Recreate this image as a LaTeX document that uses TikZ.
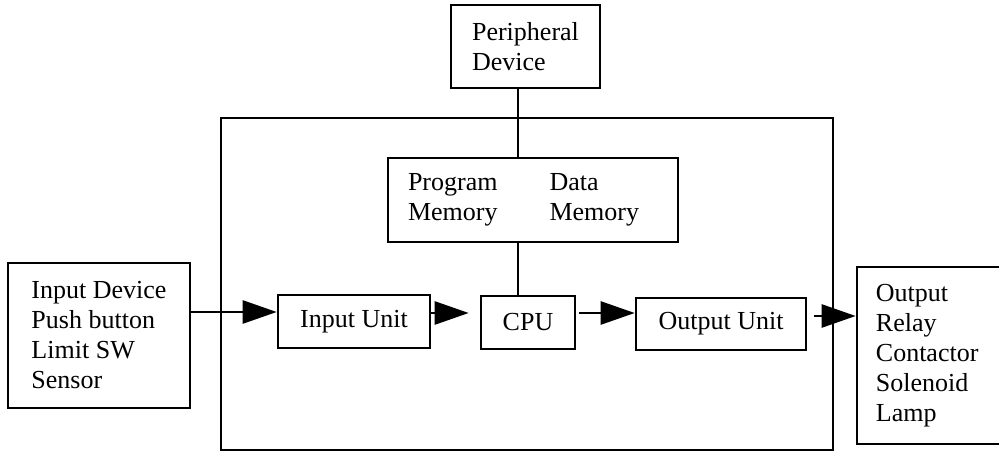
\documentclass[tikz,border=0pt]{standalone}
\usepackage{fontspec}
\setmainfont{Liberation Serif}
\usetikzlibrary{arrows.meta}
\begin{document}
\begin{tikzpicture}[x=1pt,y=-1pt,
  box/.style={draw, line width=2.6pt, rectangle, inner sep=0pt},
  txt/.style={align=left, font=\fontsize{26}{30}\selectfont},
  link/.style={line width=2.6pt},
  arr/.style={line width=2.6pt, -{Triangle[length=34pt,width=23pt]}}]
\useasboundingbox (0,0) rectangle (999,454);
% boxes
\node[box, txt, minimum width=149pt, minimum height=83pt] (periph) at (525.5,46.5) {Peripheral\\Device};
\node[box, minimum width=612pt, minimum height=332pt] (plc) at (527,284) {};
\node[box, txt, inner xsep=20pt, text width=250pt, minimum height=84pt] (mem) at (533,200)
  {\begin{tabular}{@{}l@{\hspace{52pt}}l@{}}Program & Data\\ Memory & Memory\end{tabular}};
\node[box, txt, minimum width=182pt, minimum height=145pt] (indev) at (99,335.5)
  {Input Device\\Push button\\Limit SW\\Sensor};
\node[box, txt, minimum width=152pt, minimum height=53pt] (inunit) at (354,321.5) {Input Unit};
\node[box, txt, minimum width=94pt, minimum height=53pt] (cpu) at (528,322.5) {CPU};
\node[box, txt, minimum width=170pt, minimum height=52pt] (outunit) at (721,324) {Output Unit};
\node[box, minimum width=146pt, minimum height=177pt] (outdev) at (930,355.5) {};
\node[txt, anchor=west, inner sep=0pt] (outtxt) at ([xshift=20pt]outdev.west)
  {Output\\Relay\\Contactor\\Solenoid\\Lamp};
% bus lines
\coordinate (bus) at (518,0);
\draw[link] (bus |- periph.south) -- (bus |- mem.north);
\draw[link] (bus |- mem.south) -- (bus |- cpu.north);
% arrows
\coordinate (r1) at (0,312);
\coordinate (r2) at (0,313);
\coordinate (r3) at (0,316);
\draw[arr] (indev.east |- r1) -- (inunit.west |- r1);
\draw[arr, shorten >=11pt] (inunit.east |- r2) -- (cpu.west |- r2);
\draw[arr, shorten <=3pt] (cpu.east |- r2) -- (outunit.west |- r2);
\draw[arr, shorten <=7pt] (outunit.east |- r3) -- (outdev.west |- r3);
\end{tikzpicture}
\end{document}
